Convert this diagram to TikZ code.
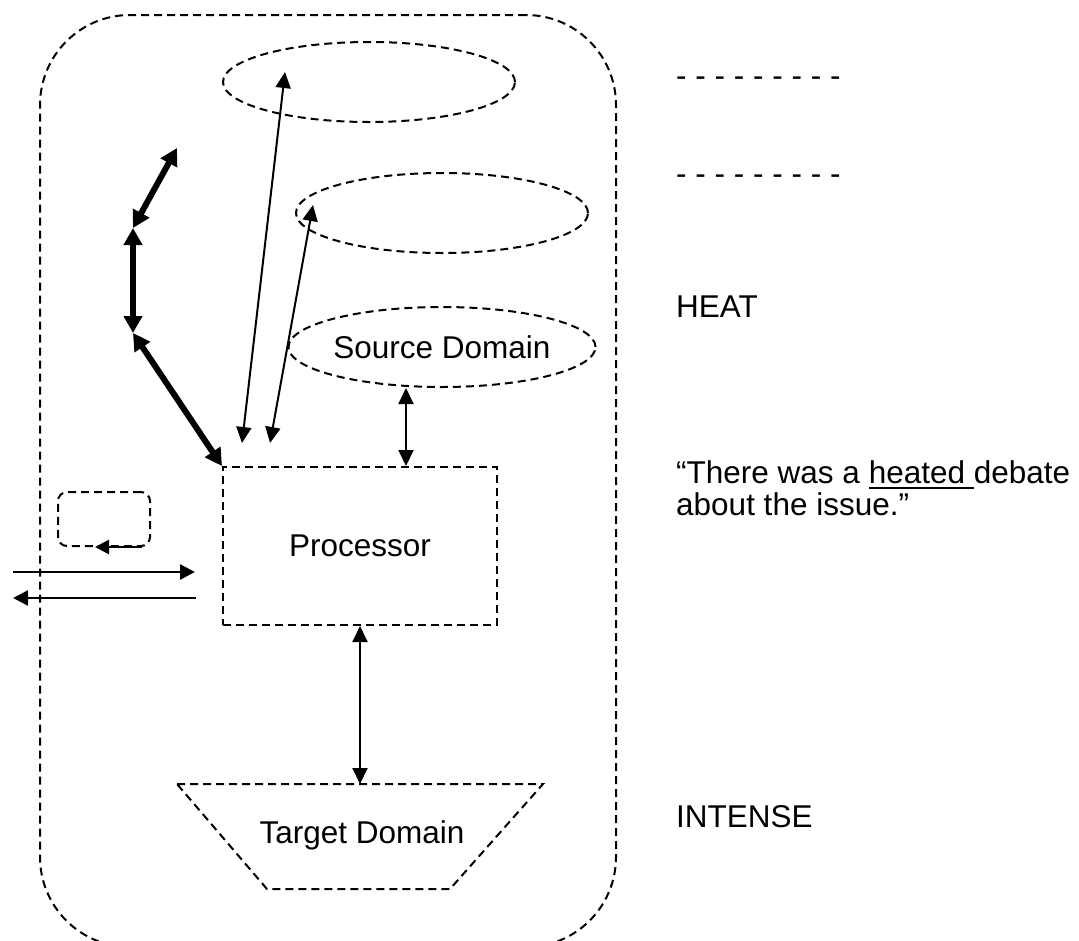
\documentclass[tikz,border=0pt]{standalone}
\usepackage{fontspec}
\setmainfont{Liberation Sans}
\usetikzlibrary{shapes.geometric,arrows.meta,calc}
% underline drawn as a rule of its own, below the baseline
\newcommand\ulword[1]{\setbox0\hbox{#1}\rlap{\rule[-6pt]{\wd0}{2pt}}\box0}

\begin{document}
\begin{tikzpicture}[x=1pt,y=-1pt,
  dsh/.style={draw, line width=2pt, dash pattern=on 8pt off 5pt},
  oval/.style={dsh, ellipse, minimum width=292pt, minimum height=80pt, inner sep=0pt},
  big/.style={font=\fontsize{31.5pt}{32pt}\selectfont},
  lbl/.style={big, inner sep=0pt, anchor=base west},
  thinarr/.style={line width=2pt, {Triangle[length=16pt,width=15pt]}-{Triangle[length=16pt,width=15pt]}},
  thickarr/.style={line width=6pt, {Triangle[length=17pt,width=18pt]}-{Triangle[length=17pt,width=18pt]}},
  flowarr/.style={line width=2.5pt, -{Triangle[length=15pt,width=15pt]}},
  smallarr/.style={line width=2.5pt, -{Triangle[length=14pt,width=14pt]}}]
\useasboundingbox (0,0) rectangle (1079,940);

% outer frame
\node[dsh, rounded corners=90pt, minimum width=576pt, minimum height=932pt, inner sep=0pt]
  (frame) at (328,481) {};

% domains
\node[oval] (e1) at (369,82) {};
\node[oval] (e2) at (442,213) {};
\node[oval, big] (src) at (442,347) {Source Domain};
\node[dsh, rectangle, minimum width=274pt, minimum height=158pt, inner sep=0pt, big]
  (proc) at (360,546) {Processor};

% target domain trapezoid
\coordinate (t1) at (177,784);
\coordinate (t2) at (543,784);
\coordinate (t3) at (450,889);
\coordinate (t4) at (267,889);
\coordinate (ttop) at (360,784);
\draw[dsh] (t1) -- (t2) -- (t3) -- (t4) -- cycle;
\node[big, inner sep=0pt] (tgt) at (362,835) {Target Domain};

% processor links
\coordinate (sx) at (406,0);
\draw[thinarr] (proc.north -| sx) -- (src.south -| sx);
\draw[thinarr] (proc.south) -- (ttop);

% long thin links into the upper ellipses
\coordinate (a1) at (242,443);
\coordinate (a2) at (285,72);
\coordinate (b1) at (270,443);
\coordinate (b2) at (313,205);
\draw[thinarr] (a1) -- (a2);
\draw[thinarr] (b1) -- (b2);

% thick chain of arrows
\coordinate (k1) at (177,148);
\coordinate (k2) at (133,228);
\coordinate (k3) at (133,333);
\draw[thickarr] (k2) -- (k1);
\draw[thickarr] (k2) -- (k3);
\draw[thickarr] (k3) -- (proc.north west);

% small loop box
\node[dsh, rounded corners=9pt, minimum width=92pt, minimum height=54pt, inner sep=0pt]
  (loop) at (104,519) {};
\coordinate (l1) at (142,0);
\coordinate (l2) at (95,0);
\draw[smallarr] (loop.south -| l1) -- (loop.south -| l2);

% input and output arrows
\coordinate (in1) at (13,572);
\coordinate (in2) at (195,572);
\coordinate (out1) at (196,598);
\coordinate (out2) at (13,598);
\draw[flowarr] (in1) -- (in2);
\draw[flowarr] (out1) -- (out2);

% right-hand labels
\node[lbl] (d1) at (676,86) {- - - - - - - - -};
\node[lbl] (d2) at (676,184) {- - - - - - - - -};
\node[lbl] (heat) at (676,317) {HEAT};
\node[lbl] (q1) at (676,483) {“There was a \ulword{heated }debate};
\node[lbl] (q2) at (676,515) {about the issue.”};
\node[lbl] (intense) at (676,827) {INTENSE};
\end{tikzpicture}
\end{document}
